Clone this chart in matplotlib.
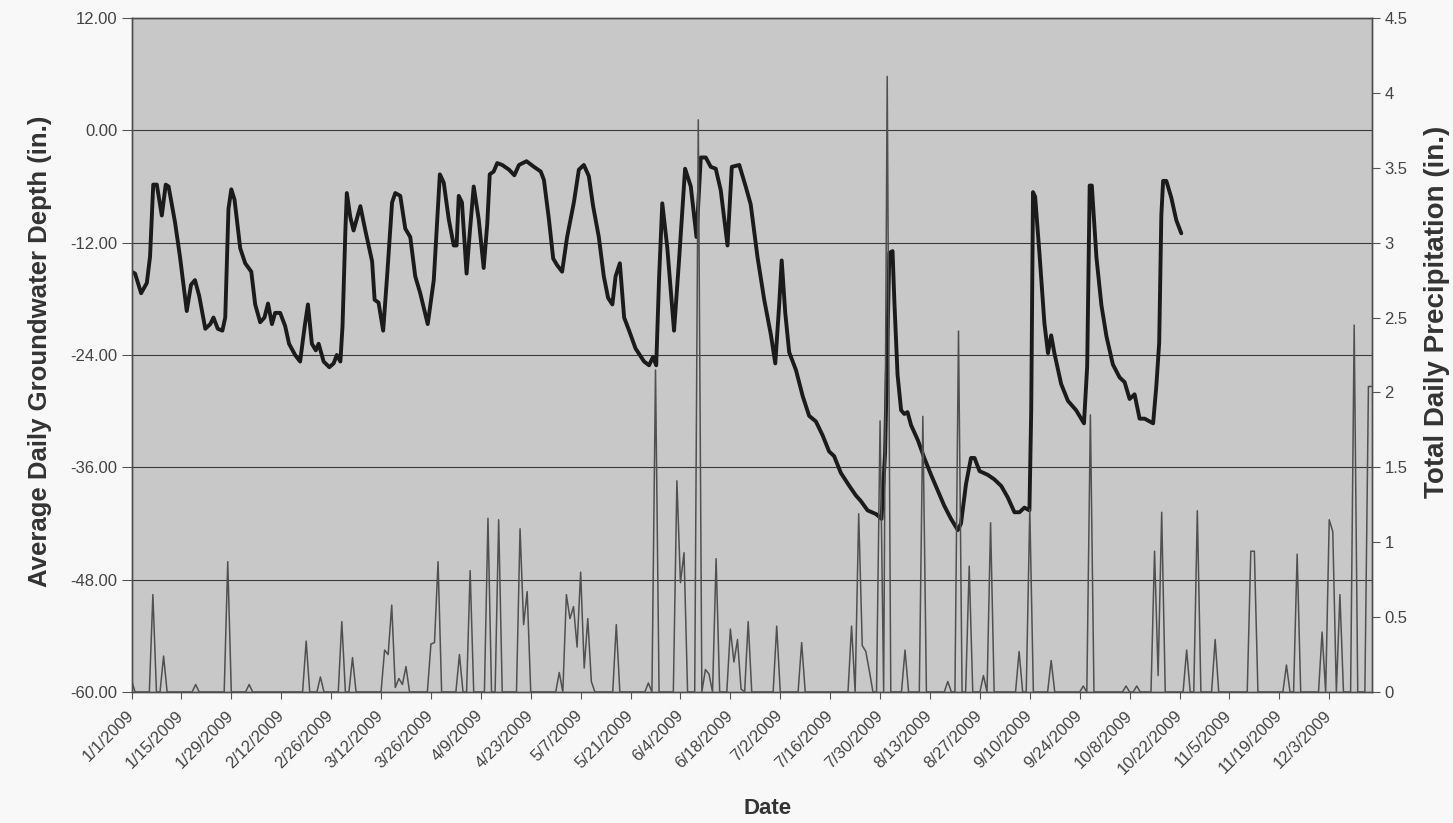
import numpy as np
import pandas as pd
import matplotlib
matplotlib.use('Agg')
import matplotlib.pyplot as plt

plt.rcParams['font.family'] = ['Liberation Sans', 'DejaVu Sans']

START = pd.Timestamp('2009-01-01')

# average daily groundwater depth (in.), day of year counted from 1/1/2009
gw_day = [0.0, 1.0, 2.7, 4.3, 5.2, 6.1, 7.1, 8.5, 9.6, 10.4, 12.2, 13.6, 15.5, 16.7, 17.8, 19.0,
          20.7, 22.1, 23.0, 24.2, 25.5, 26.3, 27.2, 28.0, 28.9, 30.5, 31.9, 33.6, 34.7, 36.1, 37.3,
          38.3, 39.4, 40.3, 41.7, 43.1, 44.2, 45.9, 47.3, 48.6, 49.5, 50.6, 51.7, 52.5, 53.9, 55.5,
          56.7, 57.6, 58.6, 59.2, 60.0, 60.4, 61.4, 62.3, 64.2, 65.6, 67.5, 68.2, 69.3, 70.6, 71.7,
          73.1, 74.0, 75.4, 76.8, 78.2, 79.6, 81.0, 83.1, 84.8, 85.7, 86.5, 87.6, 89.0, 90.4, 91.2,
          91.8, 92.7, 94.0, 94.9, 96.0, 97.4, 98.8, 99.8, 100.5, 101.6, 102.6, 104.0, 105.9, 107.4,
          108.7, 110.8, 112.9, 114.8, 115.7, 117.1, 118.3, 119.4, 120.8, 122.2, 124.1, 125.5, 126.9,
          128.3, 129.5, 131.1, 132.5, 133.7, 134.9, 135.8, 137.0, 138.2, 139.6, 141.4, 143.8, 145.2,
          146.3, 147.2, 148.0, 148.9, 150.3, 152.2, 153.6, 155.3, 156.9, 158.5, 159.7, 161.1, 162.5,
          163.9, 165.3, 167.2, 168.4, 170.5, 172.3, 173.7, 175.6, 177.5, 179.4, 180.6, 181.7, 182.4,
          183.4, 184.5, 186.4, 188.3, 190.1, 192.0, 193.9, 195.7, 197.1, 199.0, 201.4, 203.2, 204.6,
          206.5, 208.9, 210.4, 211.4, 212.6, 213.5, 214.0, 214.9, 215.9, 216.8, 217.7, 218.7, 220.6,
          222.4, 224.3, 226.2, 228.0, 229.9, 231.8, 232.7, 234.1, 235.5, 236.5, 237.9, 240.2, 242.1,
          244.0, 245.8, 247.7, 249.1, 250.5, 251.9, 252.4, 252.9, 253.5, 254.7, 256.1, 257.1, 258.0,
          258.9, 260.8, 262.7, 265.0, 266.4, 267.2, 268.1, 268.8, 269.4, 270.7, 272.1, 273.5, 275.3,
          277.2, 278.6, 280.0, 281.4, 282.8, 284.2, 286.6, 287.5, 288.3, 288.9, 289.4, 290.3, 291.7,
          293.1, 294.5]
gw_depth = [-15.1, -15.3, -17.4, -16.3, -13.5, -5.8, -5.8, -9.1, -5.8, -6.0, -9.8, -13.5, -19.3,
            -16.5, -16.0, -17.7, -21.2, -20.7, -20.0, -21.2, -21.4, -20.0, -8.4, -6.3, -7.4, -12.6,
            -14.2, -15.1, -18.6, -20.5, -20.0, -18.5, -20.7, -19.5, -19.5, -20.9, -22.8, -24.0,
            -24.7, -20.9, -18.6, -22.8, -23.5, -22.8, -24.7, -25.3, -24.9, -24.0, -24.7, -20.9,
            -10.7, -6.7, -9.3, -10.7, -8.1, -10.7, -14.0, -18.1, -18.4, -21.4, -15.6, -7.7, -6.7,
            -7.0, -10.5, -11.4, -15.6, -17.4, -20.7, -16.0, -10.0, -4.7, -5.6, -9.5, -12.3, -12.3,
            -7.0, -7.7, -15.3, -10.9, -6.0, -9.5, -14.7, -10.0, -4.7, -4.4, -3.5, -3.7, -4.2, -4.8,
            -3.7, -3.3, -3.9, -4.4, -5.3, -9.5, -13.7, -14.4, -15.1, -11.4, -7.7, -4.2, -3.7, -4.9,
            -8.1, -11.4, -15.6, -17.9, -18.6, -15.6, -14.2, -20.0, -21.4, -23.3, -24.7, -25.1,
            -24.2, -25.1, -15.8, -7.8, -12.5, -21.4, -13.9, -4.1, -6.0, -11.4, -2.9, -2.9, -3.9,
            -4.1, -6.4, -12.3, -3.9, -3.7, -6.0, -7.9, -13.5, -18.1, -21.9, -24.9, -18.6, -13.9,
            -19.5, -23.7, -25.6, -28.4, -30.5, -31.1, -32.6, -34.3, -34.8, -36.6, -38.0, -39.0,
            -39.6, -40.6, -41.0, -41.5, -34.5, -13.1, -12.9, -18.2, -26.1, -29.9, -30.3, -30.1,
            -31.5, -33.1, -35.0, -36.8, -38.5, -40.1, -41.5, -42.7, -42.0, -37.8, -35.0, -35.0,
            -36.4, -36.8, -37.3, -38.0, -39.2, -40.8, -40.8, -40.3, -40.6, -29.9, -6.6, -7.1,
            -13.1, -20.6, -23.8, -21.9, -23.8, -27.1, -28.9, -29.9, -30.8, -31.3, -25.2, -5.9,
            -5.9, -13.6, -18.7, -22.0, -25.0, -26.4, -26.9, -28.7, -28.2, -30.8, -30.8, -31.3,
            -27.3, -22.7, -9.1, -5.4, -5.4, -7.2, -9.6, -11.0]

# days with measurable rain and the daily total (in.); all other days are dry
rain_day = [0, 6, 9, 18, 27, 33, 49, 53, 59, 62, 71, 72, 73, 74, 75, 76, 77, 84, 85, 86, 92, 95,
            100, 103, 109, 110, 111, 120, 122, 123, 124, 125, 126, 127, 128, 129, 136, 145, 147,
            153, 154, 155, 159, 161, 162, 164, 168, 169, 170, 171, 173, 181, 188, 202, 204, 205,
            206, 207, 210, 212, 217, 222, 229, 232, 235, 239, 241, 249, 252, 258, 267, 269, 279,
            282, 287, 288, 289, 296, 299, 304, 314, 315, 324, 327, 334, 336, 337, 339, 343, 347,
            348]
rain_in = [0.08, 0.65, 0.24, 0.05, 0.87, 0.05, 0.34, 0.10, 0.47, 0.23, 0.28, 0.25, 0.58, 0.03,
           0.09, 0.05, 0.17, 0.32, 0.33, 0.87, 0.25, 0.81, 1.16, 1.15, 1.09, 0.45, 0.67, 0.13,
           0.65, 0.49, 0.57, 0.30, 0.80, 0.16, 0.49, 0.07, 0.45, 0.06, 2.15, 1.41, 0.73, 0.93,
           3.82, 0.15, 0.12, 0.89, 0.42, 0.20, 0.35, 0.02, 0.47, 0.44, 0.33, 0.44, 1.19, 0.31,
           0.27, 0.14, 1.81, 4.11, 0.28, 1.84, 0.07, 2.41, 0.84, 0.11, 1.13, 0.27, 1.22, 0.21,
           0.04, 1.85, 0.04, 0.04, 0.94, 0.11, 1.20, 0.28, 1.21, 0.35, 0.94, 0.94, 0.18, 0.92,
           0.40, 1.15, 1.07, 0.65, 2.45, 2.04, 2.04]

LAST_DAY = 348

gw_dates = START + pd.to_timedelta(gw_day, unit='D')

all_days = np.arange(LAST_DAY + 1)
precip = np.zeros(len(all_days))
precip[rain_day] = rain_in
precip_dates = START + pd.to_timedelta(all_days, unit='D')

tick_dates = pd.date_range('2009-01-01', '2009-12-03', freq='14D')
tick_labels = [f"{d.month}/{d.day}/{d.year}" for d in tick_dates]

W, H = 1453, 823
fig = plt.figure(figsize=(W / 100, H / 100), dpi=100, facecolor='#f8f8f8')
ax = fig.add_axes([131.5 / W, 1 - 692 / H, (1372 - 131.5) / W, (692 - 18) / H])
ax.set_facecolor('#c8c8c8')

ax.plot(gw_dates, gw_depth, color='#1b1b1b', lw=2.8, solid_joinstyle='round',
        solid_capstyle='round', zorder=3)
ax.set_ylim(-60, 12)
ax.set_yticks(np.arange(-60, 13, 12))
ax.set_yticklabels([f"{v:.2f}" for v in np.arange(-60, 13, 12)])
ax.yaxis.grid(True, color='#3a3a3a', lw=0.8)
ax.set_axisbelow(True)
ax.set_xlim(START, START + pd.Timedelta(days=LAST_DAY))
ax.set_xticks(tick_dates)
ax.set_xticklabels(tick_labels, rotation=45, ha='right', va='center',
                   rotation_mode='anchor')
ax.tick_params(axis='x', length=5, pad=10, labelsize=12, colors='#555555',
               labelcolor='#444444')
ax.tick_params(axis='y', length=7, pad=3, labelsize=12, colors='#555555',
               labelcolor='#444444')

ax2 = ax.twinx()
ax2.plot(precip_dates, precip, color='#505050', lw=1.1, zorder=2)
ax2.set_ylim(0, 4.5)
ax2.set_yticks(np.arange(0, 4.51, 0.5))
ax2.set_yticklabels([f"{v:g}" for v in np.arange(0, 4.51, 0.5)])
ax2.tick_params(axis='y', length=6, pad=3, labelsize=12, colors='#555555',
                labelcolor='#444444')

for a in (ax, ax2):
    for s in a.spines.values():
        s.set_color('#4d4d4d')
        s.set_linewidth(1.0)

fig.text(40 / W, 1 - 351 / H, 'Average Daily Groundwater Depth (in.)', rotation=90,
         ha='center', va='center', fontsize=18.5, fontweight='bold', color='#333333')
fig.text(1437 / W, 1 - 312 / H, 'Total Daily Precipitation (in.)', rotation=90,
         ha='center', va='center', fontsize=20, fontweight='bold', color='#333333')
fig.text(768 / W, 1 - 808 / H, 'Date', ha='center', va='center', fontsize=16,
         fontweight='bold', color='#333333')

fig.savefig('out.png', dpi=100, facecolor=fig.get_facecolor())
